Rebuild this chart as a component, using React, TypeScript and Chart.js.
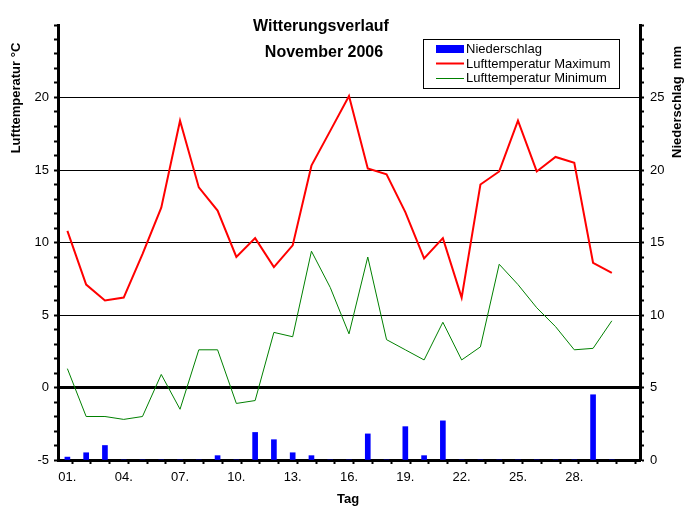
import React, { useEffect, useRef } from "react";
import { Chart, registerables } from "chart.js";

Chart.register(...registerables);

const days = [1, 2, 3, 4, 5, 6, 7, 8, 9, 10, 11, 12, 13, 14, 15, 16, 17, 18, 19, 20, 21, 22, 23, 24, 25, 26, 27, 28, 29, 30];
const tempMax = [10.8, 7.1, 6.0, 6.2, 9.2, 12.4, 18.4, 13.8, 12.2, 9.0, 10.3, 8.3, 9.8, 15.3, 17.7, 20.1, 15.1, 14.7, 12.1, 8.9, 10.3, 6.2, 14.0, 14.9, 18.4, 14.9, 15.9, 15.5, 8.6, 7.9];
const tempMin = [1.3, -2.0, -2.0, -2.2, -2.0, 0.9, -1.5, 2.6, 2.6, -1.1, -0.9, 3.8, 3.5, 9.4, 6.9, 3.7, 9.0, 3.3, 2.6, 1.9, 4.5, 1.9, 2.8, 8.5, 7.1, 5.5, 4.2, 2.6, 2.7, 4.6];
const precip = [0.2, 0.5, 1.0, 0, 0, 0, 0, 0, 0.3, 0, 1.9, 1.4, 0.5, 0.3, 0, 0, 1.8, 0, 2.3, 0.3, 2.7, 0, 0, 0, 0, 0, 0, 0, 4.5, 0];
const xLabelDays = [1, 4, 7, 10, 13, 16, 19, 22, 25, 28];
const tempLabels = [-5, 0, 5, 10, 15, 20];
const precipLabels = [0, 5, 10, 15, 20, 25];
const titleLines = ["Witterungsverlauf", "November 2006"];
const legendItems = ["Niederschlag", "Lufttemperatur Maximum", "Lufttemperatur Minimum"];

const FONT = "'Liberation Sans', Arial, sans-serif";

const textPlugin = {
  id: "texts",
  afterDraw(chart: any) {
    const ctx = chart.ctx;
    ctx.save();
    ctx.fillStyle = "#000";
    ctx.textBaseline = "middle";
    // title
    ctx.font = `bold 16px ${FONT}`;
    ctx.textAlign = "center";
    ctx.fillText(titleLines[0], 321, 27);
    ctx.fillText(titleLines[1], 324, 53);
    // axis titles
    ctx.font = `bold 13px ${FONT}`;
    ctx.fillText("Tag", 348, 499);
    ctx.save();
    ctx.translate(16, 98);
    ctx.rotate(-Math.PI / 2);
    ctx.fillText("Lufttemperatur °C", 0, 0);
    ctx.restore();
    ctx.save();
    ctx.translate(677, 102);
    ctx.rotate(-Math.PI / 2);
    ctx.fillText("Niederschlag  mm", 0, 0);
    ctx.restore();
    // legend
    ctx.fillStyle = "#fff";
    ctx.fillRect(423.5, 39.5, 196, 49);
    ctx.strokeStyle = "#000";
    ctx.lineWidth = 1;
    ctx.strokeRect(423.5, 39.5, 196, 49);
    ctx.fillStyle = "#0000ff";
    ctx.fillRect(436, 45, 28, 8);
    ctx.strokeStyle = "#ff0000";
    ctx.lineWidth = 2;
    ctx.beginPath();
    ctx.moveTo(436, 63.5);
    ctx.lineTo(464, 63.5);
    ctx.stroke();
    ctx.strokeStyle = "#008000";
    ctx.lineWidth = 1;
    ctx.beginPath();
    ctx.moveTo(436, 78.5);
    ctx.lineTo(464, 78.5);
    ctx.stroke();
    ctx.fillStyle = "#000";
    ctx.font = `13px ${FONT}`;
    ctx.textAlign = "left";
    ctx.fillText(legendItems[0], 466, 49.5);
    ctx.fillText(legendItems[1], 466, 64);
    ctx.fillText(legendItems[2], 466, 78.5);
    ctx.restore();
  },
};

export default function App() {
  const ref = useRef<HTMLCanvasElement>(null);
  useEffect(() => {
    if (!ref.current) return;
    Chart.defaults.font.family = FONT;
    Chart.defaults.font.size = 13;
    Chart.defaults.color = "#000";
    const chart = new Chart(ref.current, {
      type: "line",
      data: {
        datasets: [
          {
            type: "line",
            label: legendItems[2],
            data: days.map((d, i) => ({ x: d, y: tempMin[i] })),
            borderColor: "#008000",
            borderWidth: 1,
            pointRadius: 0,
            tension: 0,
            yAxisID: "y",
            order: 1,
          },
          {
            type: "line",
            label: legendItems[1],
            data: days.map((d, i) => ({ x: d, y: tempMax[i] })),
            borderColor: "#ff0000",
            borderWidth: 2,
            pointRadius: 0,
            tension: 0,
            yAxisID: "y",
            order: 2,
          },
          {
            type: "bar",
            label: legendItems[0],
            data: days.map((d, i) => ({ x: d, y: precip[i] })),
            backgroundColor: "#0000ff",
            borderWidth: 0,
            barThickness: 5,
            yAxisID: "y2",
            order: 3,
          } as any,
        ],
      },
      options: {
        animation: false,
        responsive: false,
        layout: { padding: { top: 25, left: 0, right: 0, bottom: 0 } },
        plugins: { legend: { display: false }, tooltip: { enabled: false }, title: { display: false } },
        scales: {
          x: {
            type: "linear",
            min: 0.5,
            max: 31.5,
            offset: false,
            border: { color: "#000", width: 3 },
            grid: {
              drawOnChartArea: false,
              tickLength: 4,
              tickWidth: 2,
              tickColor: (c: any) => (Number.isInteger(c.tick?.value) ? "rgba(0,0,0,0)" : "#000"),
            },
            ticks: {
              stepSize: 0.5,
              autoSkip: false,
              maxRotation: 0,
              padding: 6,
              font: { size: 13 },
              callback: (v: any) => {
                const n = Number(v);
                return xLabelDays.includes(n) ? (n < 10 ? "0" + n : String(n)) + "." : "";
              },
            },
            afterFit: (s: any) => {
              s.height = 48;
            },
          },
          y: {
            type: "linear",
            position: "left",
            min: -5,
            max: 25,
            border: { color: "#000", width: 3 },
            grid: {
              drawOnChartArea: true,
              color: (c: any) => {
                const v = c.tick?.value;
                return v === 0 || [5, 10, 15, 20].includes(v) ? "#000" : "rgba(0,0,0,0)";
              },
              lineWidth: (c: any) => (c.tick?.value === 0 ? 3 : 1),
              tickLength: 4,
              tickWidth: 2,
              tickColor: "#000",
            },
            ticks: {
              stepSize: 1,
              autoSkip: false,
              padding: 5,
              font: { size: 13 },
              callback: (v: any) => (tempLabels.includes(Number(v)) ? String(v) : ""),
            },
            afterFit: (s: any) => {
              s.width = 58;
            },
          },
          y2: {
            type: "linear",
            position: "right",
            min: 0,
            max: 30,
            border: { color: "#000", width: 3 },
            grid: {
              drawOnChartArea: false,
              tickLength: 4,
              tickWidth: 2,
              tickColor: "#000",
            },
            ticks: {
              stepSize: 1,
              autoSkip: false,
              padding: 6,
              font: { size: 13 },
              callback: (v: any) => (precipLabels.includes(Number(v)) ? String(v) : ""),
            },
            afterFit: (s: any) => {
              s.width = 54;
            },
          },
        },
      } as any,
      plugins: [textPlugin],
    });
    return () => chart.destroy();
  }, []);
  return (
    <div style={{ position: "absolute", left: 0, top: 0, width: 694, height: 508, background: "#fff" }}>
      <canvas ref={ref} width={694} height={508} style={{ display: "block", width: 694, height: 508 }} />
    </div>
  );
}
